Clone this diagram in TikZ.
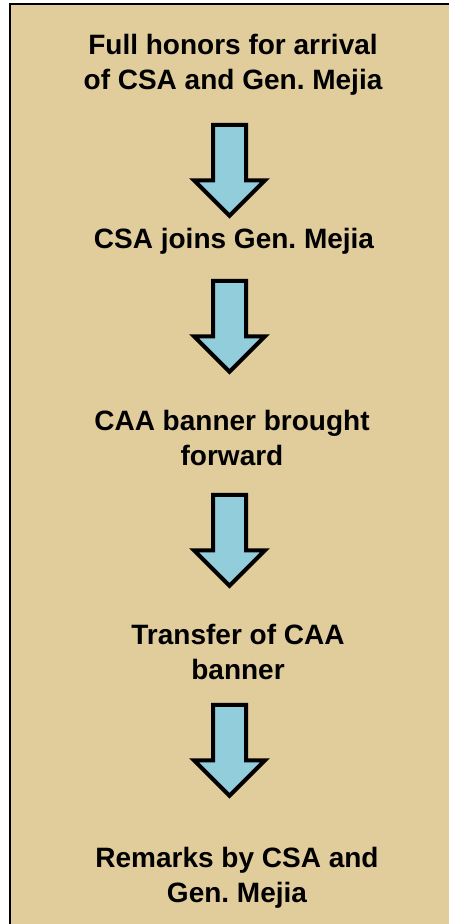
\documentclass[tikz,border=0pt]{standalone}
\usepackage{fontspec}
\setmainfont{Liberation Sans}
\usetikzlibrary{shapes.arrows}
\definecolor{panel}{HTML}{E1CC9B}
\definecolor{arrowblue}{HTML}{92CDDC}
\frenchspacing
\begin{document}
\begin{tikzpicture}[
		x=1pt, y=-1pt,
		stage/.style={font=\fontsize{28}{35}\selectfont\bfseries, align=center,
			inner sep=0pt, anchor=base},
		downarrow/.style={single arrow, draw=black, fill=arrowblue, line width=4pt,
			shape border rotate=270, minimum height=91pt, minimum width=67pt,
			text width=29pt, single arrow head extend=19pt,
			single arrow head indent=0pt, inner sep=0pt}
		]
		
		% ---- Frame ----
		\useasboundingbox (0,0) rectangle (449,924);
		\clip (0,0) rectangle (449,924);
		\fill[white] (0,0) rectangle (449,924);
		\draw[line width=2.5pt, fill=panel] (10,4) rectangle (470,950);
		
		% ---- Stages (anchored at the last baseline) ----
		\node[stage] (t1) at (233, 89)  {Full honors for arrival\\of CSA and Gen. Mejia};
		\node[stage] (t2) at (234, 248) {CSA joins Gen. Mejia};
		\node[stage] (t3) at (232, 465) {CAA banner brought\\forward};
		\node[stage] (t4) at (238, 679) {Transfer of CAA\\banner};
		\node[stage] (t5) at (237, 902) {Remarks by CSA and\\Gen. Mejia};
		
		% ---- Arrows between stages ----
		\node[downarrow] (a1) at (229.5, 162) {};
		\node[downarrow] (a2) at (229.5, 318) {};
		\node[downarrow] (a3) at (229.5, 532) {};
		\node[downarrow] (a4) at (229.5, 742) {};
	\end{tikzpicture}
\end{document}
